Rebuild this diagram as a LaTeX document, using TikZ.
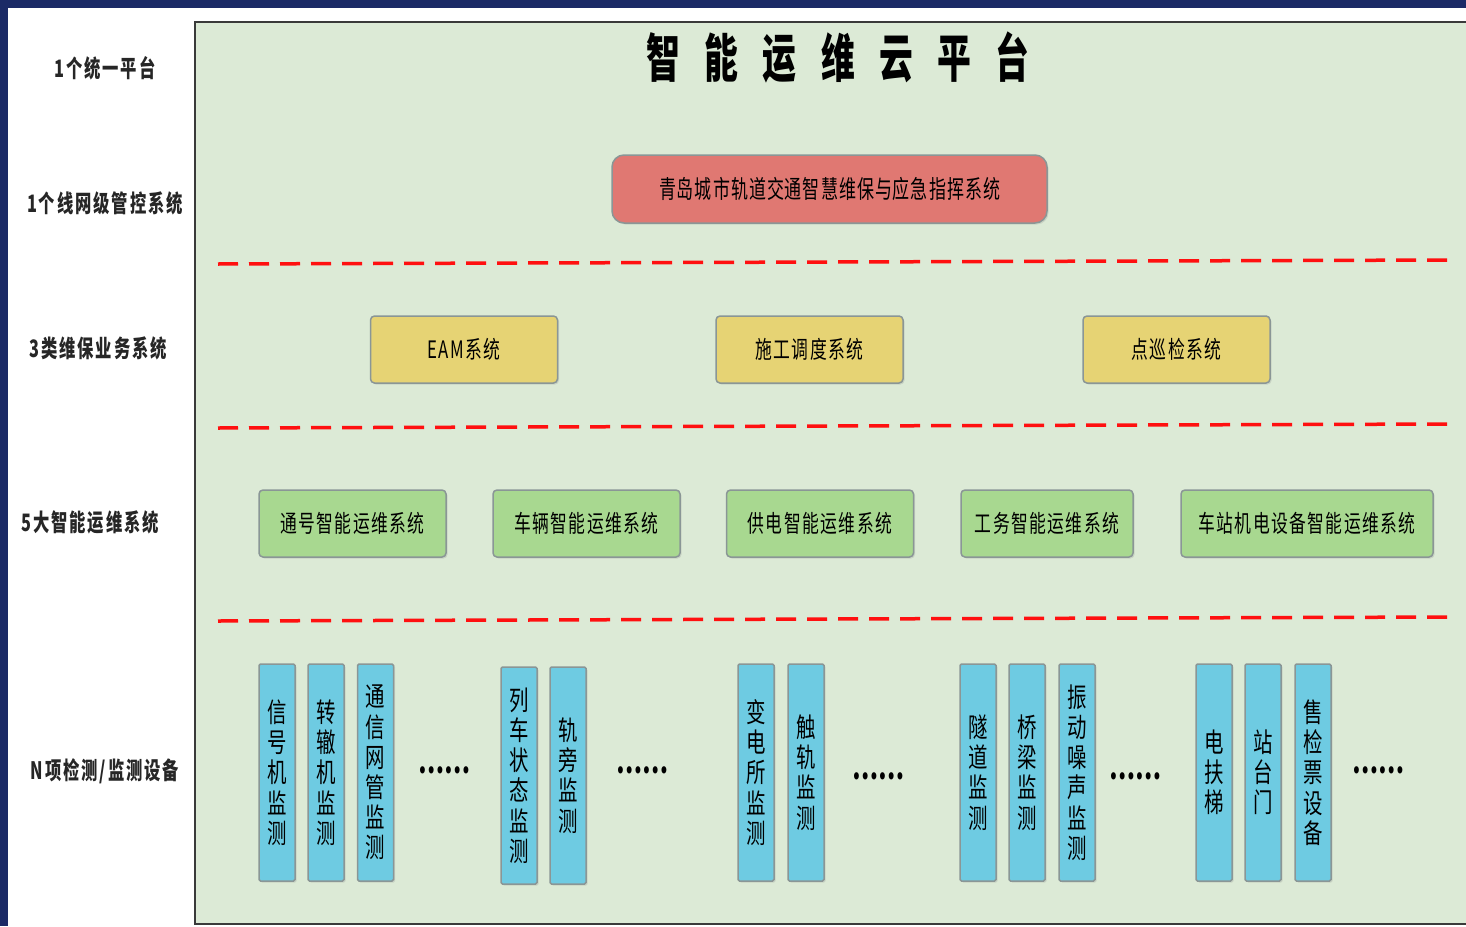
\documentclass[tikz,border=0pt]{standalone}
\usepackage{fontspec}
\usetikzlibrary{shadows}
\newfontfamily\cjk[FakeStretch=0.7]{Noto Sans CJK SC}
\definecolor{navy}{HTML}{1B2A66}
\definecolor{panel}{HTML}{DCEAD6}
\definecolor{panelline}{HTML}{3A3A3A}
\definecolor{boxline}{HTML}{8A9696}
\definecolor{redfill}{HTML}{E07872}
\definecolor{yelfill}{HTML}{E6D374}
\definecolor{grnfill}{HTML}{A8D890}
\definecolor{bluefill}{HTML}{6ECBE2}
\definecolor{dashred}{HTML}{FF1010}
\begin{document}
\begin{tikzpicture}[x=1pt,y=-1pt,
  box/.style={draw=boxline, line width=1.5pt, rounded corners=4pt, inner sep=0pt,
    drop shadow={opacity=0.22, shadow xshift=1.5pt, shadow yshift=-1.5pt},
    font=\cjk\fontsize{24}{26}\selectfont\addfontfeatures{LetterSpace=6}},
  hbox/.style={box, minimum width=187pt, minimum height=67pt},
  ybox/.style={hbox, fill=yelfill},
  gbox/.style={hbox, fill=grnfill},
  vbox/.style={box, fill=bluefill, rounded corners=1.5pt, minimum width=36pt, minimum height=217pt,
    align=center, font=\cjk\fontsize{27}{30.2}\selectfont\addfontfeatures{FakeStretch=0.72}},
  side/.style={font=\cjk\bfseries\fontsize{24}{26}\selectfont\addfontfeatures{FakeStretch=0.68,LetterSpace=8}, text=black!85},
  dots/.style={font=\cjk\bfseries\fontsize{33}{34}\selectfont},
  sep/.style={draw=dashred, line width=3.5pt, dash pattern=on 20pt off 11pt},
]
\useasboundingbox (0,0) rectangle (1466,926);
% frame
\fill[navy] (0,0) rectangle (1466,926);
\fill[white] (8,8) rectangle (1466,926);
\fill[panel] (195,22) rectangle (1466,924);
\draw[panelline, line width=2pt] (1466,22) -- (195,22) -- (195,924) -- (1466,924);

% title
\node[font=\cjk\bfseries\fontsize{52}{56}\selectfont\addfontfeatures{FakeStretch=0.65,LetterSpace=47}] (title) at (838,58) {智能运维云平台};

% left labels
\node[side] (l1) at (105,68) {1个统一平台};
\node[side] (l2) at (105,203) {1个线网级管控系统};
\node[side] (l3) at (98,348) {3类维保业务系统};
\node[side] (l4) at (90,522) {5大智能运维系统};
\node[side] (l5) at (105,771) {N项检测/监测设备};

% top system
\node[box, fill=redfill, rounded corners=12pt, minimum width=435pt, minimum height=68pt,
  font=\cjk\fontsize{25}{27}\selectfont\addfontfeatures{FakeStretch=0.68,LetterSpace=4}] (top) at (829.5,189) {青岛城市轨道交通智慧维保与应急指挥系统};

% separators
\coordinate (s1a) at (218,264); \coordinate (s1b) at (1452,260);
\coordinate (s2a) at (218,428); \coordinate (s2b) at (1452,424);
\coordinate (s3a) at (218,621); \coordinate (s3b) at (1452,617);
\draw[sep] (s1a) -- (s1b);
\draw[sep] (s2a) -- (s2b);
\draw[sep] (s3a) -- (s3b);

% business systems
\node[ybox] (eam) at (464,349.5) {EAM系统};
\node[ybox] (sg) at (809.5,349.5) {施工调度系统};
\node[ybox] (dxj) at (1176.5,349.5) {点巡检系统};

% intelligent O&M systems
\node[gbox] (th) at (352.5,523.5) {通号智能运维系统};
\node[gbox] (cl) at (586.5,523.5) {车辆智能运维系统};
\node[gbox] (gd) at (820,523.5) {供电智能运维系统};
\node[gbox, minimum width=172pt] (gw) at (1047,523.5) {工务智能运维系统};
\node[gbox, minimum width=252pt] (cz) at (1307,523.5) {车站机电设备智能运维系统};

% devices
\node[vbox] (v1) at (277,772.5) {信\\号\\机\\监\\测};
\node[vbox] (v2) at (326,772.5) {转\\辙\\机\\监\\测};
\node[vbox] (v3) at (375.5,772.5) {通\\信\\网\\管\\监\\测};
\node[dots] (d1) at (444.5,770) {……};
\node[vbox] (v4) at (519,775.5) {列\\车\\状\\态\\监\\测};
\node[vbox] (v5) at (568,775.5) {轨\\旁\\监\\测};
\node[dots] (d2) at (642.5,770) {……};
\node[vbox] (v6) at (756,772.5) {变\\电\\所\\监\\测};
\node[vbox] (v7) at (806,772.5) {触\\轨\\监\\测};
\node[dots] (d3) at (878.5,776) {……};
\node[vbox] (v8) at (978,772.5) {隧\\道\\监\\测};
\node[vbox] (v9) at (1027,772.5) {桥\\梁\\监\\测};
\node[vbox] (v10) at (1077,772.5) {振\\动\\噪\\声\\监\\测};
\node[dots] (d4) at (1135.5,776) {……};
\node[vbox] (v11) at (1214,772.5) {电\\扶\\梯};
\node[vbox] (v12) at (1263,772.5) {站\\台\\门};
\node[vbox] (v13) at (1313,772.5) {售\\检\\票\\设\\备};
\node[dots] (d5) at (1378.5,770) {……};
\end{tikzpicture}
\end{document}
